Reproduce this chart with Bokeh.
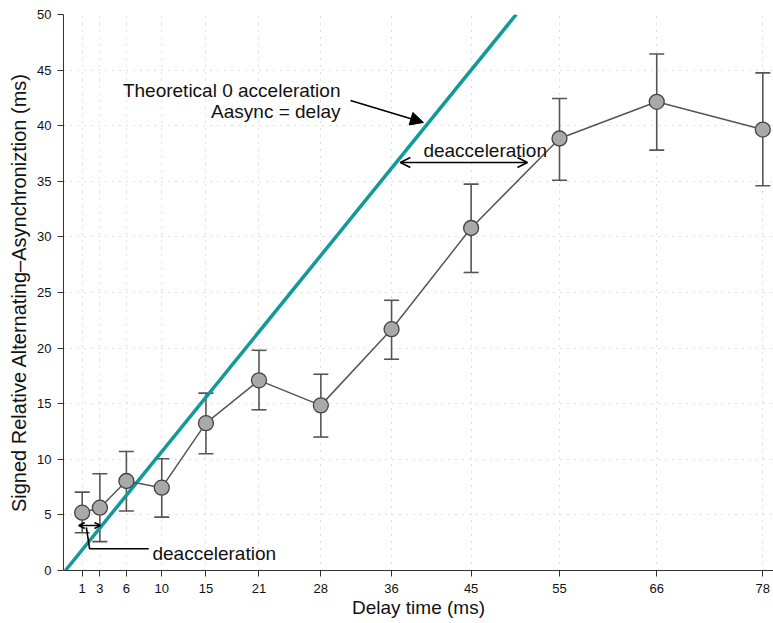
from bokeh.plotting import figure
from bokeh.models import (Range1d, FixedTicker, ColumnDataSource, Whisker, TeeHead,
                          Arrow, NormalHead, OpenHead, Label)
from bokeh.embed import file_html
from bokeh.resources import INLINE

# ---- data ----
delay = [1, 3, 6, 10, 15, 21, 28, 36, 45, 55, 66, 78]
mean = [5.2, 5.65, 8.05, 7.45, 13.25, 17.1, 14.85, 21.7, 30.8, 38.85, 42.15, 39.65]
lower = [3.4, 2.6, 5.35, 4.8, 10.5, 14.45, 12.0, 19.0, 26.8, 35.1, 37.8, 34.6]
upper = [7.05, 8.7, 10.7, 10.05, 15.95, 19.8, 17.65, 24.3, 34.75, 42.45, 46.45, 44.75]
x_ticks = delay
y_ticks = [0, 5, 10, 15, 20, 25, 30, 35, 40, 45, 50]
theory_x = [-0.9, 50.1]
theory_y = [0, 50]

FONT = "Liberation Sans"

p = figure(width=773, height=623, output_backend="svg", toolbar_location=None,
           x_range=Range1d(-1.115, 79.21), y_range=Range1d(0, 50),
           min_border_left=63, min_border_right=0, min_border_top=14, min_border_bottom=53)
p.outline_line_color = None
p.background_fill_color = "white"

for ax, ticks in ((p.xaxis[0], x_ticks), (p.yaxis[0], y_ticks)):
    ax.ticker = FixedTicker(ticks=ticks)
    ax.minor_tick_line_color = None
    ax.major_tick_in = 0
    ax.major_tick_out = 6
    ax.axis_line_color = "#333333"
    ax.major_tick_line_color = "#333333"
    ax.major_label_text_font = FONT
    ax.major_label_text_font_size = "13px"
    ax.major_label_text_color = "#111111"
    ax.axis_label_text_font = FONT
    ax.axis_label_text_font_style = "normal"
    ax.axis_label_text_color = "#111111"

p.xaxis.axis_label = "Delay time (ms)"
p.yaxis.axis_label = "Signed Relative Alternating\u2013Asynchroniztion (ms)"
p.xaxis.axis_label_text_font_size = "19px"
p.yaxis.axis_label_text_font_size = "20px"
p.xaxis.major_label_standoff = 7
p.xaxis.axis_label_standoff = 1
p.yaxis.major_label_standoff = 6
p.yaxis.axis_label_standoff = 4

p.xgrid.ticker = FixedTicker(ticks=x_ticks)
p.ygrid.ticker = FixedTicker(ticks=y_ticks)
for g in (p.xgrid, p.ygrid):
    g.grid_line_color = "#bdbdbd"
    g.grid_line_dash = "1 6"
    g.grid_line_width = 1

# theoretical line
p.line(theory_x, theory_y, line_color="#12999a", line_width=3.5)

src = ColumnDataSource(dict(x=delay, y=mean, lo=lower, hi=upper))
p.add_layout(Whisker(source=src, base="x", lower="lo", upper="hi",
                     line_color="#555555", line_width=1.6,
                     lower_head=TeeHead(size=15, line_color="#555555", line_width=1.6),
                     upper_head=TeeHead(size=15, line_color="#555555", line_width=1.6)))
p.line("x", "y", source=src, line_color="#555555", line_width=1.5)
p.scatter("x", "y", source=src, size=15, fill_color="#a9a9a9", line_color="#444444", line_width=1.3)

# annotations
def lab(x, y, t, align="left"):
    p.add_layout(Label(x=x, y=y, text=t, text_font=FONT, text_font_size="19px",
                       text_color="#111111", text_align=align, text_baseline="alphabetic"))

lab(30.22, 43.17, "Theoretical 0 acceleration", "right")
lab(30.22, 41.28, "Aasync = delay", "right")
lab(39.6, 37.77, "deacceleration")
lab(8.95, 1.53, "deacceleration")

p.add_layout(Arrow(x_start=31.35, y_start=42.27, x_end=39.61, y_end=40.29,
                   line_color="black", line_width=1.6,
                   end=NormalHead(size=13, fill_color="black", line_color="black")))
p.add_layout(Arrow(x_start=36.99, y_start=36.69, x_end=51.37, y_end=36.69,
                   line_color="black", line_width=1.6,
                   start=OpenHead(size=10, line_width=1.6), end=OpenHead(size=10, line_width=1.6)))
p.add_layout(Arrow(x_start=0.61, y_start=4.05, x_end=3.07, y_end=4.05,
                   line_color="black", line_width=1.6,
                   start=OpenHead(size=6, line_width=1.5), end=OpenHead(size=6, line_width=1.5)))
p.line([1.47, 1.84, 8.53], [3.87, 1.95, 1.95], line_color="black", line_width=1.6)

open("out.html", "w").write(file_html(p, INLINE))
